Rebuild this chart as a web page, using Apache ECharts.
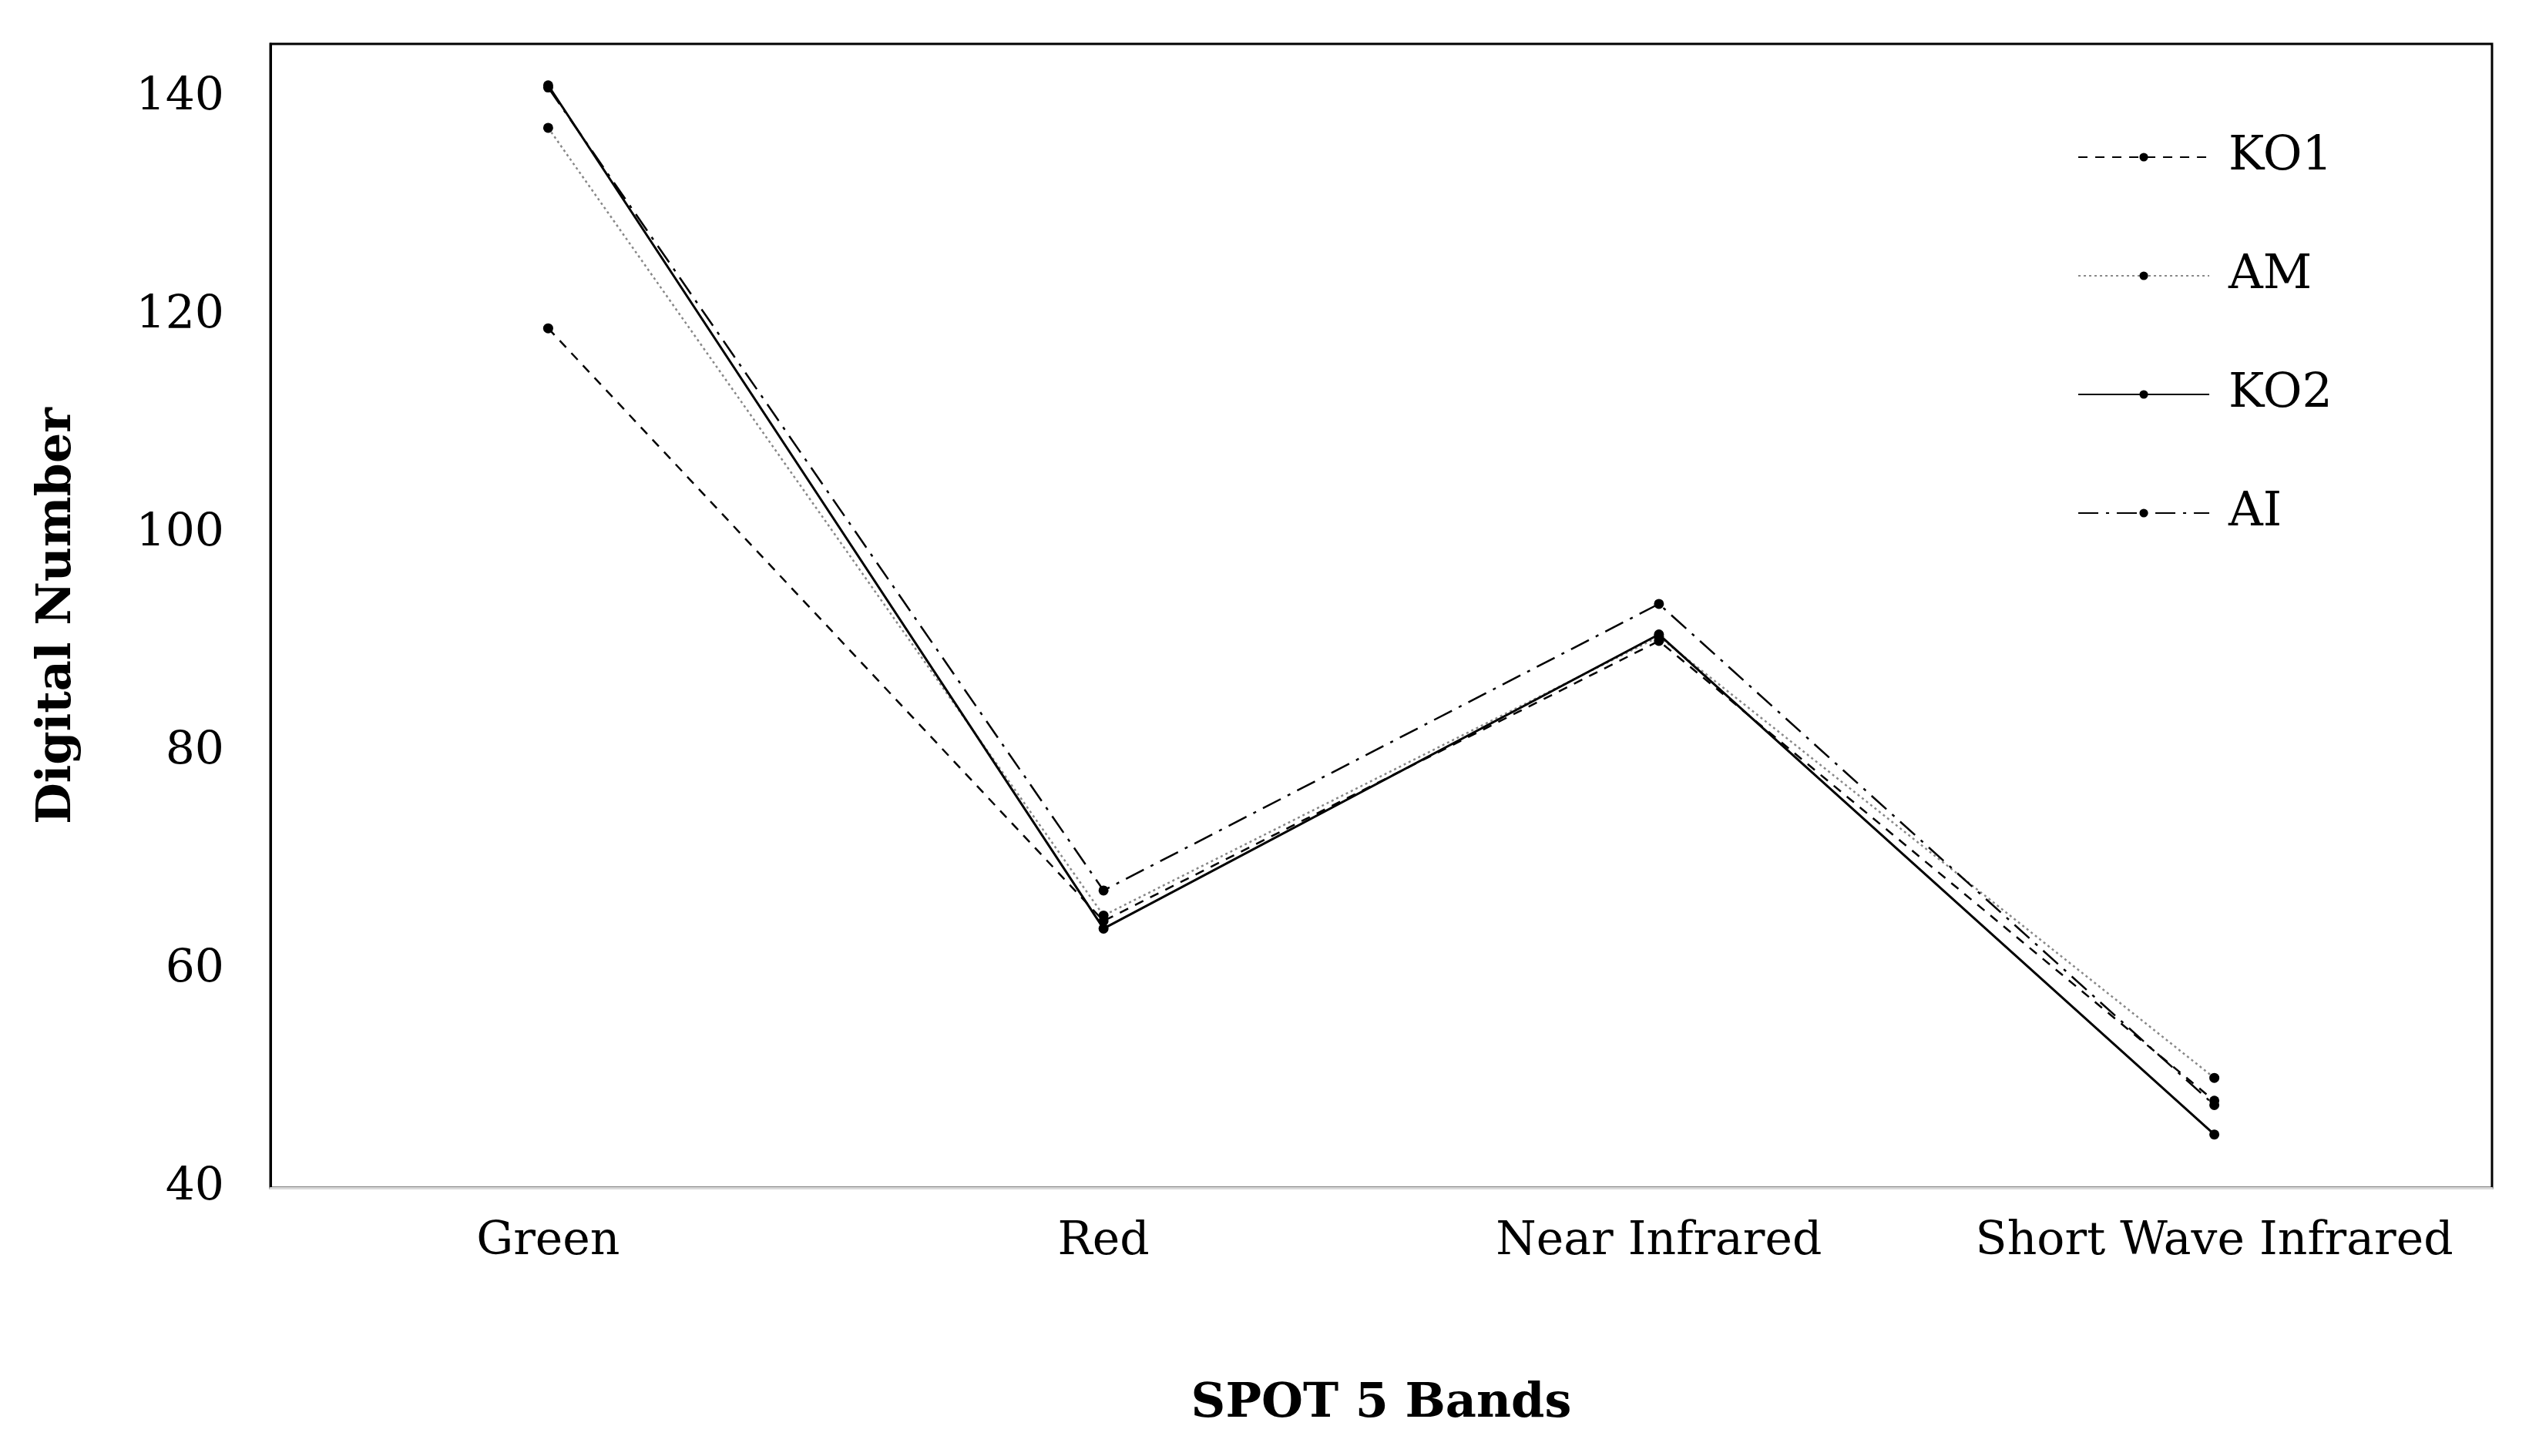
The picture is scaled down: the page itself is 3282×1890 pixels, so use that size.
<!DOCTYPE html>
<html><head><meta charset="utf-8">
<script src="https://cdn.jsdelivr.net/npm/echarts@6/dist/echarts.min.js"></script>
<style>html,body{margin:0;padding:0;background:#fff}#c{width:3282px;height:1890px}</style>
</head><body><div id="c"></div>
<script>
const categories = ['Green', 'Red', 'Near Infrared', 'Short Wave Infrared'];
const ko1 = [118.9, 64.5, 90.2, 48.0];
const am = [137.3, 65.0, 90.6, 50.1];
const ko2 = [141.2, 63.8, 90.8, 44.9];
const ai = [141.0, 67.3, 93.6, 47.6];
const yTicks = [40, 60, 80, 100, 120, 140];

const F = 'DejaVu Serif';
function s(name, data, lt, color, width) {
  return { name, type: 'line', data, symbol: 'circle', symbolSize: 13,
    itemStyle: { color: '#000' },
    lineStyle: { type: lt, color: color, width: width } };
}
const chart = echarts.init(document.getElementById('c'));
chart.setOption({
  animation: false,
  grid: { left: 351, top: 57, right: 48, bottom: 348, show: true, borderColor: '#000', borderWidth: 3 },
  legend: { orient: 'vertical', right: 250, top: 168, itemWidth: 170, itemHeight: 14, itemGap: 92,
    textStyle: { fontFamily: F, fontSize: 62, color: '#000', padding: [0,0,0,20] },
    data: ['KO1', 'AM', 'KO2', 'AI'] },
  xAxis: { type: 'category', data: categories, boundaryGap: true,
    axisLine: { lineStyle: { color: '#d9d9d9', width: 3 } }, axisTick: { show: false },
    axisLabel: { fontFamily: F, fontSize: 60, color: '#000', margin: 40, interval: 0 },
    name: 'SPOT 5 Bands', nameLocation: 'middle', nameGap: 250,
    nameTextStyle: { fontFamily: F, fontSize: 62, fontWeight: 'bold', color: '#000' } },
  yAxis: { type: 'value', min: 40, max: 145, interval: 20,
    axisLine: { show: true, lineStyle: { color: '#000', width: 3 } }, axisTick: { show: false },
    splitLine: { show: false },
    axisLabel: { fontFamily: F, fontSize: 60, color: '#000', margin: 60,
      formatter: v => yTicks.includes(v) ? String(v) : '' },
    name: 'Digital Number', nameLocation: 'middle', nameGap: 245,
    nameTextStyle: { fontFamily: F, fontSize: 62, fontWeight: 'bold', color: '#000' } },
  series: [
    s('KO1', ko1, [12, 10], '#000', 2.5),
    s('AM', am, [3, 4], '#888', 2.5),
    s('KO2', ko2, 'solid', '#000', 3),
    s('AI', ai, [26, 10, 4, 10], '#000', 2.5)
  ]
});
</script></body></html>
